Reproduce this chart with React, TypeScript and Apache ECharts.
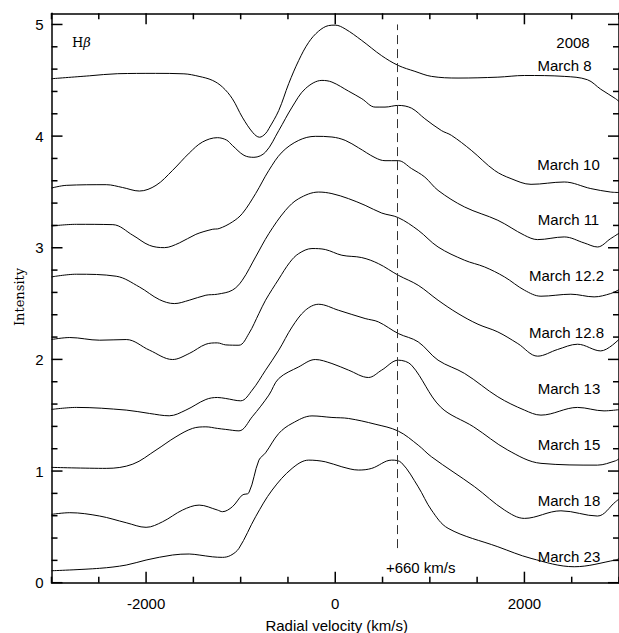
import React, { useEffect, useRef } from 'react';
import * as echarts from 'echarts';

// Tick labels and tick positions
const xTickLabels = [-2000, 0, 2000];
const yTickLabels = [0, 1, 2, 3, 4, 5];
const xTicks = [-3000, -2500, -2000, -1500, -1000, -500, 0, 500, 1000, 1500, 2000, 2500, 3000];
const yTicks = [0, 0.2, 0.4, 0.6, 0.8, 1, 1.2, 1.4, 1.6, 1.8, 2, 2.2, 2.4, 2.6, 2.8, 3, 3.2, 3.4, 3.6, 3.8, 4, 4.2, 4.4, 4.6, 4.8, 5];

// Series names (dates, 2008)
const seriesNames = ['March 8', 'March 10', 'March 11', 'March 12.2', 'March 12.8', 'March 13', 'March 15', 'March 18', 'March 23'];

// [radial velocity km/s, intensity]
const march8: [number, number][] = [
  [-3000, 4.514], [-2600, 4.54], [-2300, 4.559], [-1900, 4.562], [-1600, 4.558], [-1440, 4.535], [-1300, 4.5],
  [-1193, 4.44], [-1088, 4.335], [-983, 4.17], [-870, 4.03], [-800, 3.99], [-740, 4.02], [-702, 4.067],
  [-597, 4.23], [-492, 4.47], [-386, 4.678], [-281, 4.84], [-176, 4.94], [-71, 4.99], [0, 4.994], [105, 4.96],
  [280, 4.857], [491, 4.72], [666, 4.633], [842, 4.58], [1017, 4.535], [1298, 4.52], [1719, 4.528], [2000, 4.543],
  [2421, 4.535], [2666, 4.505], [2807, 4.42], [2964, 4.335], [3000, 4.31],
];
const march10: [number, number][] = [
  [-3000, 3.535], [-2844, 3.559], [-2421, 3.565], [-2250, 3.54], [-2071, 3.508], [-1895, 3.559], [-1720, 3.693],
  [-1544, 3.848], [-1404, 3.947], [-1246, 3.986], [-1150, 3.965], [-1088, 3.917], [-965, 3.828], [-860, 3.81],
  [-737, 3.857], [-597, 4.05], [-456, 4.26], [-316, 4.425], [-141, 4.499], [-35, 4.484], [140, 4.403], [281, 4.335],
  [421, 4.26], [526, 4.26], [666, 4.275], [807, 4.25], [947, 4.156], [1122, 4.05], [1228, 4.007], [1438, 3.873],
  [1684, 3.693], [1859, 3.619], [2070, 3.568], [2421, 3.589], [2702, 3.53], [2912, 3.499], [3000, 3.495],
];
const march11: [number, number][] = [
  [-3000, 3.195], [-2737, 3.21], [-2351, 3.207], [-2140, 3.112], [-1965, 3.022], [-1807, 3.001], [-1649, 3.043],
  [-1474, 3.12], [-1300, 3.165], [-1228, 3.172], [-1088, 3.231], [-983, 3.306], [-842, 3.485], [-702, 3.693],
  [-562, 3.857], [-386, 3.962], [-211, 3.998], [-35, 3.992], [105, 3.962], [245, 3.896], [421, 3.807], [526, 3.78],
  [666, 3.78], [807, 3.709], [947, 3.633], [1087, 3.514], [1368, 3.365], [1719, 3.246], [2000, 3.112], [2140, 3.073],
  [2421, 3.097], [2632, 3.043], [2772, 3.007], [2912, 3.082], [3000, 3.13],
];
const march12_2: [number, number][] = [
  [-3000, 2.739], [-2737, 2.763], [-2316, 2.745], [-2071, 2.649], [-1860, 2.536], [-1702, 2.5], [-1544, 2.53],
  [-1368, 2.575], [-1246, 2.584], [-1088, 2.62], [-983, 2.709], [-842, 2.918], [-702, 3.127], [-526, 3.335],
  [-386, 3.44], [-176, 3.499], [-35, 3.485], [140, 3.44], [316, 3.38], [491, 3.311], [666, 3.27], [877, 3.157],
  [1087, 3.007], [1368, 2.888], [1579, 2.828], [1789, 2.739], [2000, 2.62], [2175, 2.566], [2491, 2.584],
  [2737, 2.56], [2912, 2.59], [3000, 2.625],
];
const march12_8: [number, number][] = [
  [-3000, 2.178], [-2807, 2.196], [-2491, 2.172], [-2210, 2.178], [-1965, 2.083], [-1720, 1.999], [-1544, 2.053],
  [-1368, 2.136], [-1246, 2.148], [-1158, 2.13], [-1018, 2.127], [-913, 2.232], [-807, 2.411], [-737, 2.53],
  [-597, 2.72], [-480, 2.87], [-386, 2.948], [-246, 2.993], [-105, 2.984], [70, 2.933], [280, 2.912], [456, 2.858],
  [666, 2.754], [877, 2.664], [1087, 2.53], [1298, 2.411], [1509, 2.315], [1719, 2.246], [1930, 2.142],
  [2140, 2.029], [2351, 2.089], [2562, 2.136], [2807, 2.076], [3000, 2.18],
];
const march13: [number, number][] = [
  [-3000, 1.552], [-2737, 1.57], [-2210, 1.546], [-1965, 1.516], [-1755, 1.495], [-1579, 1.546], [-1368, 1.641],
  [-1246, 1.659], [-1158, 1.65], [-1000, 1.629], [-878, 1.725], [-737, 1.903], [-597, 2.083], [-456, 2.291],
  [-316, 2.44], [-176, 2.494], [35, 2.44], [316, 2.366], [456, 2.336], [666, 2.232], [877, 2.157], [1087, 1.993],
  [1368, 1.874], [1719, 1.665], [2000, 1.546], [2175, 1.501], [2562, 1.57], [2842, 1.539], [3000, 1.55],
];
const march15: [number, number][] = [
  [-3000, 1.033], [-2421, 1.024], [-2140, 1.062], [-1895, 1.188], [-1684, 1.307], [-1509, 1.382], [-1368, 1.396],
  [-1246, 1.382], [-1158, 1.373], [-1018, 1.36], [-878, 1.486], [-702, 1.68], [-597, 1.829], [-386, 1.933],
  [-211, 1.999], [-35, 1.963], [140, 1.904], [351, 1.838], [491, 1.904], [666, 1.993], [807, 1.948], [1112, 1.575],
  [1463, 1.396], [1824, 1.188], [2175, 1.069], [2772, 1.053], [2964, 1.092], [3000, 1.11],
];
const march18: [number, number][] = [
  [-3000, 0.612], [-2807, 0.627], [-2491, 0.597], [-2210, 0.537], [-2000, 0.496], [-1825, 0.546], [-1614, 0.651],
  [-1439, 0.695], [-1246, 0.651], [-1193, 0.636], [-1088, 0.68], [-983, 0.785], [-913, 0.806], [-807, 1.098],
  [-737, 1.163], [-597, 1.337], [-456, 1.427], [-246, 1.494], [-35, 1.48], [140, 1.471], [421, 1.42], [666, 1.358],
  [877, 1.232], [1017, 1.128], [1474, 0.859], [1789, 0.651], [2000, 0.576], [2386, 0.644], [2772, 0.597],
  [2964, 0.725], [3000, 0.75],
];
const march23: [number, number][] = [
  [-3000, 0.107], [-2491, 0.129], [-2210, 0.158], [-2000, 0.203], [-1720, 0.248], [-1544, 0.257], [-1439, 0.248],
  [-1300, 0.232], [-1193, 0.227], [-1105, 0.245], [-1018, 0.308], [-842, 0.591], [-667, 0.83], [-456, 1.024],
  [-281, 1.098], [-105, 1.083], [70, 1.038], [245, 1.009], [386, 1.024], [596, 1.098], [700, 1.075], [877, 0.859],
  [1017, 0.651], [1193, 0.487], [1719, 0.322], [2070, 0.218], [2527, 0.143], [2964, 0.203], [3000, 0.215],
];

const spectra = [march8, march10, march11, march12_2, march12_8, march13, march15, march18, march23];

// Dashed marker at +660 km/s
const markerVelocity = 660;
const markerIntensityRange = [0.31, 5.0];

export default function App() {
  const ref = useRef<HTMLDivElement>(null);

  useEffect(() => {
    if (!ref.current) return;
    const chart = echarts.init(ref.current, null, { renderer: 'svg' });
    const sans = '"Liberation Sans", Arial, Helvetica, sans-serif';
    const serif = '"DejaVu Serif", serif';
    const axisLineStyle = { color: '#000', width: 1.5 };

    const xBase = { type: 'value', min: -3000, max: 3000, interval: 500, splitLine: { show: false }, axisTick: { show: false } };
    const yBase = { type: 'value', min: 0, max: 5.1, interval: 0.2, splitLine: { show: false }, axisTick: { show: false } };

    const labelX = [564.5, 568.5, 568.5, 566.5, 566.5, 569, 569, 569, 569];
    const labelY = [65, 164.5, 219.7, 275, 332, 388, 444, 500, 556];

    const texts: any[] = [
      {
        type: 'text', id: 'hbeta', x: 72, y: 42,
        style: {
          text: '{h|H}{b|β}', verticalAlign: 'middle', textAlign: 'left',
          rich: {
            h: { fontFamily: serif, fontSize: 13, fill: '#000' },
            b: { fontFamily: serif, fontSize: 13, fontStyle: 'italic', fill: '#000' },
          },
        },
      },
      {
        type: 'text', id: 'ytitle', x: 19, y: 297, rotation: Math.PI / 2,
        style: { text: 'Intensity', fontFamily: serif, fontSize: 13, fill: '#000', textAlign: 'center', verticalAlign: 'middle' },
      },
      {
        type: 'text', id: 'xtitle', x: 336.7, y: 625,
        style: { text: 'Radial velocity (km/s)', fontFamily: sans, fontSize: 15, fill: '#000', textAlign: 'center', verticalAlign: 'middle' },
      },
      {
        type: 'text', id: 'year', x: 573, y: 42.5,
        style: { text: '2008', fontFamily: sans, fontSize: 15, fill: '#000', textAlign: 'center', verticalAlign: 'middle' },
      },
      {
        type: 'text', id: 'marker', x: 420.7, y: 567.5,
        style: { text: '+' + markerVelocity + ' km/s', fontFamily: sans, fontSize: 15, fill: '#000', textAlign: 'center', verticalAlign: 'middle' },
      },
      ...seriesNames.map((n, i) => ({
        type: 'text', id: 'lbl' + i, x: labelX[i], y: labelY[i],
        style: { text: n, fontFamily: sans, fontSize: 15, fill: '#000', textAlign: 'center', verticalAlign: 'middle' },
      })),
    ];

    const option: any = {
      animation: false,
      backgroundColor: '#fff',
      grid: { left: 51.5, top: 13.3, width: 571, height: 569.4, containLabel: false },
      xAxis: [
        {
          ...xBase, position: 'bottom',
          axisLine: { show: true, onZero: false, lineStyle: axisLineStyle },
          axisLabel: { customValues: xTickLabels, margin: 13, fontSize: 15, color: '#000', fontFamily: sans, formatter: (v: number) => String(v) },
        },
        {
          ...xBase, position: 'top',
          axisLine: { show: true, onZero: false, lineStyle: axisLineStyle },
          axisLabel: { show: false },
        },
      ],
      yAxis: [
        {
          ...yBase, position: 'left',
          axisLine: { show: true, onZero: false, lineStyle: axisLineStyle },
          axisLabel: { customValues: yTickLabels, margin: 8, fontSize: 15, color: '#000', fontFamily: sans },
        },
        {
          ...yBase, position: 'right',
          axisLine: { show: true, onZero: false, lineStyle: axisLineStyle },
          axisLabel: { show: false },
        },
      ],
      series: spectra.map((d, i) => ({
        name: seriesNames[i],
        type: 'line',
        xAxisIndex: 0,
        yAxisIndex: 0,
        data: d,
        smooth: 0.35,
        symbol: 'none',
        silent: true,
        lineStyle: { color: '#000', width: 1 },
        ...(i === 0
          ? {
              markLine: {
                silent: true,
                symbol: 'none',
                label: { show: false },
                lineStyle: { color: '#333', width: 1, type: [9, 5] },
                data: [[
                  { coord: [markerVelocity, markerIntensityRange[0]] },
                  { coord: [markerVelocity, markerIntensityRange[1]] },
                ]],
              },
            }
          : {}),
      })),
      graphic: texts,
    };

    chart.setOption(option);

    // Ticks (inward, on all four sides) placed through the chart's own scales
    const tickStyle = { stroke: '#000', lineWidth: 1.5 };
    const left = Number(chart.convertToPixel({ xAxisIndex: 0 }, -3000));
    const right = Number(chart.convertToPixel({ xAxisIndex: 0 }, 3000));
    const bottom = Number(chart.convertToPixel({ yAxisIndex: 0 }, 0));
    const top = Number(chart.convertToPixel({ yAxisIndex: 0 }, 5.1));
    const ticks: any[] = [];
    xTicks.forEach((v, i) => {
      const px = Number(chart.convertToPixel({ xAxisIndex: 0 }, v));
      const len = xTickLabels.includes(v) ? 11 : 6;
      ticks.push({ type: 'line', id: 'xb' + i, shape: { x1: px, y1: bottom, x2: px, y2: bottom - len }, style: tickStyle });
      ticks.push({ type: 'line', id: 'xt' + i, shape: { x1: px, y1: top, x2: px, y2: top + len }, style: tickStyle });
    });
    yTicks.forEach((v, i) => {
      const py = Number(chart.convertToPixel({ yAxisIndex: 0 }, v));
      const len = yTickLabels.includes(v) ? 11 : 6;
      ticks.push({ type: 'line', id: 'yl' + i, shape: { x1: left, y1: py, x2: left + len, y2: py }, style: tickStyle });
      ticks.push({ type: 'line', id: 'yr' + i, shape: { x1: right, y1: py, x2: right - len, y2: py }, style: tickStyle });
    });
    chart.setOption({ graphic: ticks });

    return () => chart.dispose();
  }, []);

  return <div ref={ref} style={{ position: 'absolute', left: 0, top: 0, width: 619, height: 633 }} />;
}
